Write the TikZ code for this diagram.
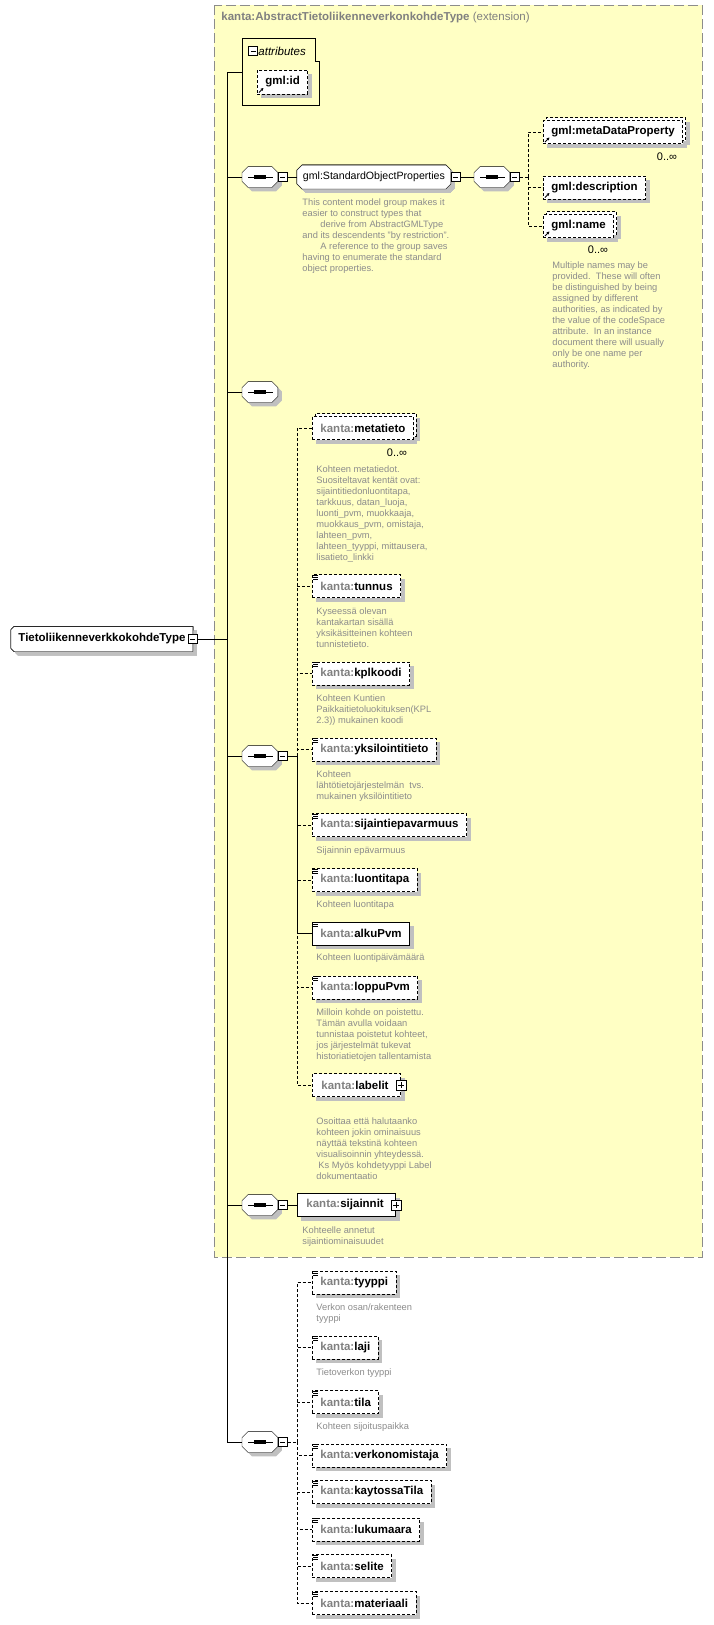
\documentclass[tikz,border=0pt]{standalone}
\usepackage{fontspec}
\setmainfont{Liberation Sans}
\usetikzlibrary{shadows,arrows.meta,backgrounds}

\definecolor{extfill}{HTML}{FFFFC4}
\definecolor{extline}{HTML}{8C8C8C}
\definecolor{prefixgray}{HTML}{808080}
\definecolor{docgray}{HTML}{8C8C8C}
\definecolor{shadegray}{HTML}{C0C0C0}

\newcommand{\kanta}[1]{{\color{prefixgray}kanta:}#1}
% octagon outline round a named node
\newcommand{\octbox}[2]{%
  \draw[fill=white, boxshadow] ([xshift=#2]#1.north west) -- ([xshift=-#2]#1.north east)
    -- ([yshift=-#2]#1.north east) -- ([yshift=#2]#1.south east)
    -- ([xshift=-#2]#1.south east) -- ([xshift=#2]#1.south west)
    -- ([yshift=#2]#1.south west) -- ([yshift=-#2]#1.north west) -- cycle;}

\tikzset{
  boxshadow/.style={drop shadow={shadow xshift=4pt, shadow yshift=-4pt, fill=shadegray, opacity=1}},
  opt/.style={dash pattern=on 3pt off 2pt},
  elem/.style={draw, fill=white, anchor=west, minimum height=23pt, inner xsep=8pt, inner ysep=0pt,
    font=\fontsize{11.5}{13}\selectfont\bfseries, boxshadow},
  multi/.style={general shadow={shadow xshift=7pt, shadow yshift=-1pt, fill=shadegray, opacity=1},
    copy shadow={shadow xshift=3pt, shadow yshift=3pt, draw=black, fill=white, opacity=1, opt}},
  simpletype/.style={path picture={
      \foreach \k in {0.8pt,2.6pt,4.4pt}
        \draw[solid, line width=0.8pt] ([shift={(1pt,-\k)}]path picture bounding box.north west) -- ++(5pt,0pt);}},
  elemref/.style={path picture={
      \draw[solid, line width=0.8pt, -{Stealth[length=3pt, width=3pt]}]
        ([shift={(1.5pt,1.5pt)}]path picture bounding box.south west) -- ++(4.5pt,4.5pt);}},
  seq/.style={anchor=west, minimum width=35pt, minimum height=20pt, inner sep=0pt},
  grp/.style={anchor=west, minimum height=23pt, inner xsep=2pt, inner ysep=0pt,
    font=\fontsize{10.6}{12}\selectfont},
  rootbox/.style={anchor=west, minimum height=24pt, inner xsep=7pt, inner ysep=0pt,
    font=\fontsize{11.5}{13}\selectfont\bfseries},
  minusbox/.style={draw, solid, fill=white, anchor=west, minimum size=9pt, inner sep=0pt,
    path picture={\draw ([xshift=2pt]path picture bounding box.west) -- ([xshift=-2pt]path picture bounding box.east);}},
  plusbox/.style={draw, solid, fill=white, anchor=center, minimum size=10pt, inner sep=0pt,
    path picture={
      \draw ([xshift=2pt]path picture bounding box.west) -- ([xshift=-2pt]path picture bounding box.east);
      \draw ([yshift=-2pt]path picture bounding box.north) -- ([yshift=2pt]path picture bounding box.south);}},
  doc/.style={anchor=north west, inner sep=0pt, align=left, text=docgray, font=\fontsize{9.3}{11}\selectfont},
  occ/.style={inner sep=0pt, font=\fontsize{11}{12}\selectfont},
}

\begin{document}
\begin{tikzpicture}[x=1pt, y=-1pt, line width=0.9pt]
  \useasboundingbox (0,0) rectangle (713,1625);
  \begin{scope}[on background layer]
    \fill[white] (0,0) rectangle (713,1625);
    % extension base type
    \draw[extline, fill=extfill, dash pattern=on 10pt off 4pt] (214,5) rectangle (702,1257);
  \end{scope}
  \node[anchor=west, inner sep=0pt, text=prefixgray, font=\fontsize{11.5}{13}\selectfont] (ext)
    at (221,18) {\textbf{kanta:AbstractTietoliikenneverkonkohdeType} (extension)};

  % attributes
  \draw (242,38) -- (315,38) -- (315,61) -- (319,61) -- (319,105) -- (242,105) -- cycle;
  \node[minusbox, anchor=center] (attrm) at (253,51) {};
  \node[anchor=west, inner sep=0pt, font=\fontsize{11.5}{13}\selectfont\itshape] (attrs) at (258,51) {attributes};
  \node[elem, opt, elemref, minimum height=24pt] (gmlid) at (257,82) {gml:id};
  \coordinate (attrin) at (242,72);
  \coordinate (trunk) at (227,72);

  % root
  \node[rootbox] (root) at (11,639) {TietoliikenneverkkokohdeType};
  \node[minusbox, anchor=center] (rootm) at (root.east) {};

  % gml:StandardObjectProperties
  \node[seq] (s1) at (242,177) {};
  \node[minusbox] (s1m) at (s1.east) {};
  \node[grp, minimum width=153pt] (sop) at (297,177) {gml:StandardObjectProperties};
  \node[minusbox] (sopm) at (sop.east) {};
  \node[doc] (sopdoc) at (302,198) {This content model group makes it\\
    easier to construct types that\\
    \hspace*{18pt}derive from AbstractGMLType\\
    and its descendents "by restriction".\\
    \hspace*{18pt}A reference to the group saves\\
    having to enumerate the standard\\
    object properties.};
  \node[seq] (s2) at (474,177) {};
  \node[minusbox] (s2m) at (s2.east) {};
  \coordinate (f2) at (528,177);
  \node[elem, opt, elemref, multi] (mdp) at (543,132) {gml:metaDataProperty};
  \node[occ] (mdpocc) at (667,157) {0..∞};
  \node[elem, opt, elemref] (desc) at (543,187.5) {gml:description};
  \node[elem, opt, elemref, multi] (name) at (543,226) {gml:name};
  \node[occ] (nameocc) at (598,250) {0..∞};
  \node[doc] (namedoc) at (552,261) {Multiple names may be\\
    provided.\ \ These will often\\
    be distinguished by being\\
    assigned by different\\
    authorities, as indicated by\\
    the value of the codeSpace\\
    attribute.\ \ In an instance\\
    document there will usually\\
    only be one name per\\
    authority.};

  \node[seq] (s3) at (242,392) {};

  % kanta elements
  \node[seq] (s4) at (242,756) {};
  \node[minusbox] (s4m) at (s4.east) {};
  \coordinate (f4) at (297,756);
  \node[elem, opt, multi] (meta) at (312,428) {\kanta{metatieto}};
  \node[occ] (metaocc) at (397,453) {0..∞};
  \node[doc] (metadoc) at (316,465) {Kohteen metatiedot.\\
    Suositeltavat kentät ovat:\\
    sijaintitiedonluontitapa,\\
    tarkkuus, datan\_luoja,\\
    luonti\_pvm, muokkaaja,\\
    muokkaus\_pvm, omistaja,\\
    lahteen\_pvm,\\
    lahteen\_tyyppi, mittausera,\\
    lisatieto\_linkki};
  \node[elem, opt, simpletype] (tunnus) at (312,586) {\kanta{tunnus}};
  \node[doc] (tunnusdoc) at (316,607) {Kyseessä olevan\\
    kantakartan sisällä\\
    yksikäsitteinen kohteen\\
    tunnistetieto.};
  \node[elem, opt, simpletype] (kpl) at (312,673.5) {\kanta{kplkoodi}};
  \node[doc] (kpldoc) at (316,694) {Kohteen Kuntien\\
    Paikkaitietoluokituksen(KPL\\
    2.3)) mukainen koodi};
  \node[elem, opt, simpletype] (yks) at (312,749.5) {\kanta{yksilointitieto}};
  \node[doc] (yksdoc) at (316,770) {Kohteen\\
    lähtötietojärjestelmän\ \ tvs.\\
    mukainen yksilöintitieto};
  \node[elem, opt, simpletype] (sijep) at (312,825) {\kanta{sijaintiepavarmuus}};
  \node[doc] (sijepdoc) at (316,846) {Sijainnin epävarmuus};
  \node[elem, opt, simpletype] (luon) at (312,880) {\kanta{luontitapa}};
  \node[doc] (luondoc) at (316,900) {Kohteen luontitapa};
  \node[elem, simpletype] (alku) at (312,933.5) {\kanta{alkuPvm}};
  \node[doc] (alkudoc) at (316,953) {Kohteen luontipäivämäärä};
  \node[elem, opt, simpletype] (loppu) at (312,987.5) {\kanta{loppuPvm}};
  \node[doc] (loppudoc) at (316,1008) {Milloin kohde on poistettu.\\
    Tämän avulla voidaan\\
    tunnistaa poistetut kohteet,\\
    jos järjestelmät tukevat\\
    historiatietojen tallentamista};
  \node[elem, opt, inner xsep=9pt] (labelit) at (312,1085) {\kanta{labelit}\hspace*{3pt}};
  \node[plusbox] (labelitp) at (labelit.east) {};
  \node[doc] (labelitdoc) at (316,1117) {Osoittaa että halutaanko\\
    kohteen jokin ominaisuus\\
    näyttää tekstinä kohteen\\
    visualisoinnin yhteydessä.\\
    \hspace*{2pt}Ks Myös kohdetyyppi Label\\
    dokumentaatio};

  \node[seq] (s5) at (242,1205) {};
  \node[minusbox] (s5m) at (s5.east) {};
  \node[elem, inner xsep=9pt] (sij) at (297,1205) {\kanta{sijainnit}\hspace*{3pt}};
  \node[plusbox] (sijp) at (sij.east) {};
  \node[doc] (sijdoc) at (302,1226) {Kohteelle annetut\\
    sijaintiominaisuudet};

  % own elements
  \node[seq] (s6) at (242,1442) {};
  \node[minusbox] (s6m) at (s6.east) {};
  \coordinate (f6) at (297,1442);
  \node[elem, opt, simpletype] (tyyppi) at (312,1282.5) {\kanta{tyyppi}};
  \node[doc] (tyyppidoc) at (316,1303) {Verkon osan/rakenteen\\
    tyyppi};
  \node[elem, opt, simpletype] (laji) at (312,1347.5) {\kanta{laji}};
  \node[doc] (lajidoc) at (316,1368) {Tietoverkon tyyppi};
  \node[elem, opt, simpletype] (tila) at (312,1402) {\kanta{tila}};
  \node[doc] (tiladoc) at (316,1422) {Kohteen sijoituspaikka};
  \node[elem, opt, simpletype] (verk) at (312,1455.5) {\kanta{verkonomistaja}};
  \node[elem, opt, simpletype] (kayt) at (312,1492) {\kanta{kaytossaTila}};
  \node[elem, opt, simpletype] (luku) at (312,1529.5) {\kanta{lukumaara}};
  \node[elem, opt, simpletype] (selite) at (312,1566.3) {\kanta{selite}};
  \node[elem, opt, simpletype] (mat) at (312,1603.3) {\kanta{materiaali}};

  % outlines of the model group symbols
  \begin{scope}[on background layer]
    \foreach \n in {s1,s2,s3,s4,s5,s6}
      \octbox{\n}{6pt}
    \octbox{sop}{5pt}
    \draw[fill=white, boxshadow] (root.north east) -- ([xshift=3pt]root.north west)
      -- ([yshift=-3pt]root.north west) -- ([yshift=3pt]root.south west)
      -- ([xshift=3pt]root.south west) -- (root.south east) -- cycle;
  \end{scope}
  \foreach \n in {s1,s2,s3,s4,s5,s6} {
    \draw ([xshift=6pt]\n.west) -- ([xshift=-5pt]\n.east);
    \foreach \d in {-4pt,0pt,4pt}
      \fill ([xshift=\d]\n.center) +(-1.6pt,-1.6pt) rectangle +(1.6pt,1.6pt);
  }

  % connectors
  \draw (attrin) -- (trunk) |- (s6.west);
  \foreach \n in {s1,s3,s4,s5}
    \draw (\n.west) -- (\n.west -| trunk);
  \draw (rootm.east) -- (rootm.east -| trunk);
  \draw (s1m.east) -- (sop.west);
  \draw (sopm.east) -- (s2.west);
  \draw[opt] (s2m.east) -- (f2);
  \foreach \n in {mdp,desc,name}
    \draw[opt] (f2) |- (\n.west);
  \draw (s4m.east) -- (f4);
  \foreach \n in {meta,tunnus,kpl,yks,sijep,luon,loppu,labelit}
    \draw[opt] (f4) |- (\n.west);
  \draw (f4) |- (alku.west);
  \draw (s5m.east) -- (sij.west);
  \draw[opt] (s6m.east) -- (f6);
  \foreach \n in {tyyppi,laji,tila,verk,kayt,luku,selite,mat}
    \draw[opt] (f6) |- (\n.west);
\end{tikzpicture}
\end{document}
